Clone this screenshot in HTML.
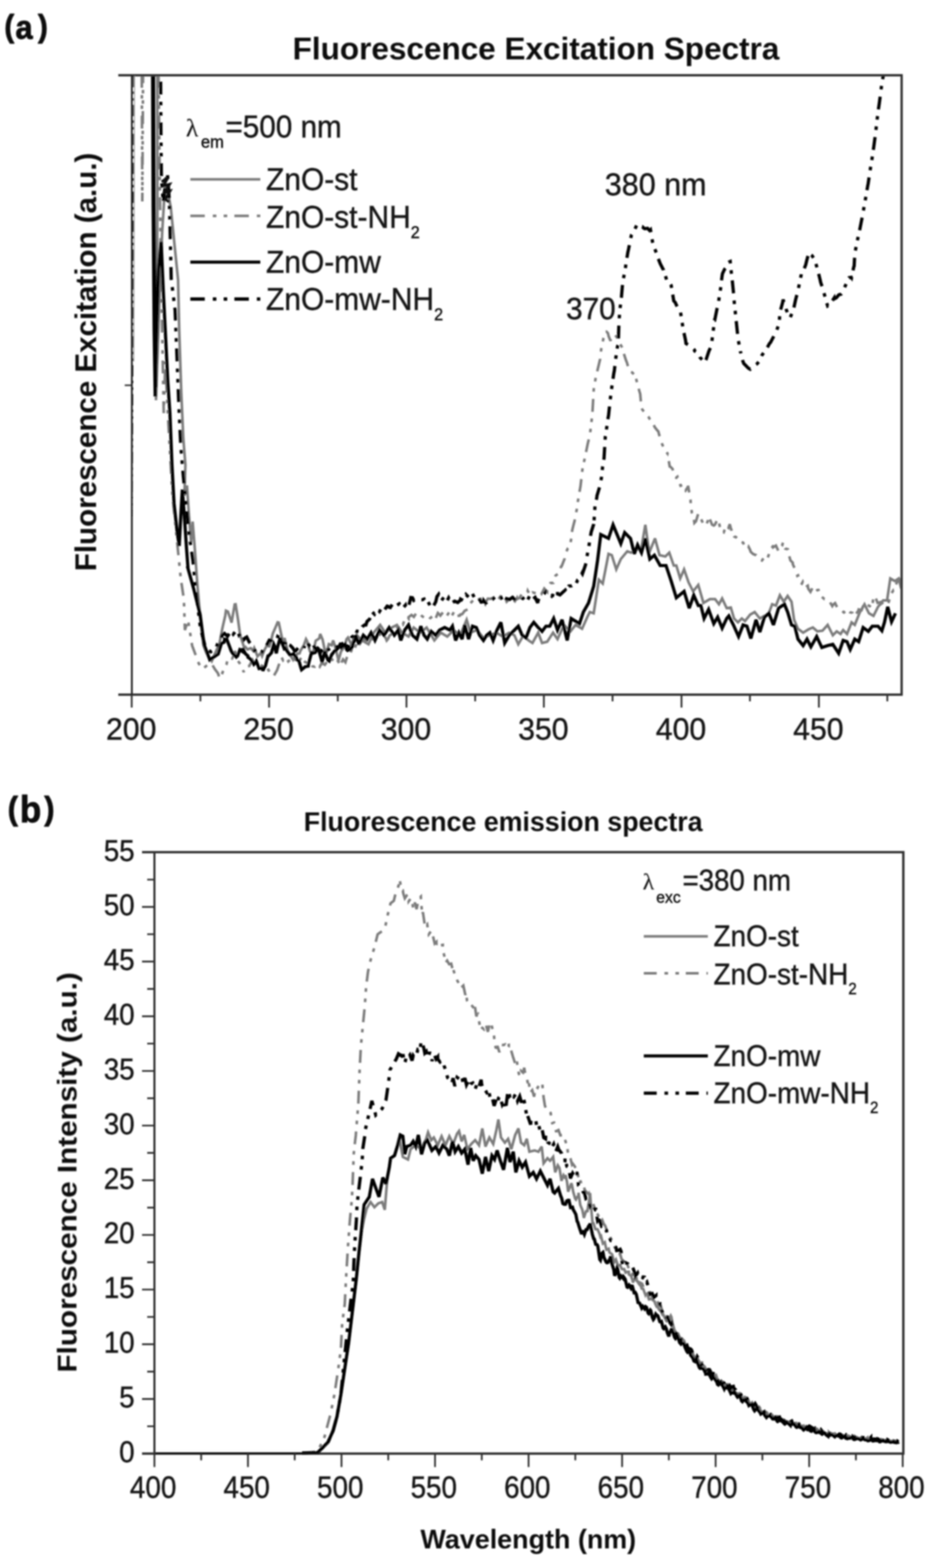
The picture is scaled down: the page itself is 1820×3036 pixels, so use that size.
<!DOCTYPE html>
<html lang="en"><head><meta charset="utf-8"><title>Fluorescence spectra</title>
<style>
html,body{margin:0;padding:0;background:#fff;}
body{width:1820px;height:3036px;overflow:hidden;}
svg{display:block;}
text{font-family:"Liberation Sans",Arial,sans-serif;fill:#141414;stroke:#141414;stroke-width:0.8px;}
.b{font-weight:bold;fill:#111;stroke:none;}
.pl{font-weight:bold;fill:#0c0c0c;stroke:#0c0c0c;stroke-width:1.5px;stroke-linejoin:round;}
.s{font-family:"Liberation Serif","DejaVu Serif",serif;stroke-width:0.3px;}
.ax{stroke:#2e2e2e;fill:none;stroke-linecap:butt;}
.c{fill:none;stroke-linejoin:miter;stroke-miterlimit:3;stroke-linecap:butt;}
</style></head><body>
<svg width="1820" height="3036" viewBox="0 0 1820 3036">
<defs><filter id="bl" x="-2%" y="-2%" width="104%" height="104%"><feGaussianBlur stdDeviation="1.45"/></filter></defs>
<rect width="1820" height="3036" fill="#fff"/>
<g filter="url(#bl)">
<g id="chartA">
<clipPath id="clipA"><rect x="255" y="145.7" width="1490.7" height="1199.3"/></clipPath>
<g clip-path="url(#clipA)">
<polyline class="c" points="304.5,145.0 304.8,400.0 303.5,650.0 302.0,775.0 308.0,600.0 314.0,450.0 320.0,352.0 325.0,372.0 330.6,401.0 338.0,475.0 344.8,542.0 347.0,640.0 351.0,760.0 355.0,850.0 359.0,900.0 357.0,960.0 362.0,940.0 366.0,1000.0 370.0,1050.0 373.0,1010.0 377.0,1060.0 382.0,1130.0 388.0,1200.0 394.0,1250.0 400.0,1265.0 410.0,1280.0 425.0,1245.5 430.7,1215.8 436.1,1192.2 437.5,1182.5 441.3,1184.3 447.5,1202.5 448.3,1205.5 454.4,1170.2 456.2,1170.0 460.9,1200.0 465.0,1230.0 467.0,1235.9 472.8,1253.8 475.0,1252.5 479.3,1257.6 485.5,1255.0 490.0,1260.0 492.2,1254.7 498.6,1270.7 505.4,1264.4 507.5,1270.0 511.2,1260.2 516.4,1250.3 521.6,1251.5 525.0,1240.0 528.1,1226.9 533.3,1214.9 537.5,1205.0 539.7,1205.5 546.0,1235.2 550.0,1240.0 550.9,1235.3 557.6,1262.7 562.5,1269.6 567.5,1277.5 569.3,1274.1 576.2,1265.6 580.0,1265.0 581.5,1260.4 588.0,1249.9 592.5,1237.5 594.6,1241.2 599.7,1260.0 602.5,1265.0 606.1,1264.3 611.2,1240.7 618.2,1236.1 620.0,1227.5 624.6,1238.3 630.0,1265.0 631.8,1264.6 636.7,1247.1 642.3,1249.3 645.0,1240.0 648.6,1251.0 654.8,1276.3 655.0,1280.0 660.1,1261.8 667.0,1252.2 671.0,1237.5 673.8,1234.4 679.3,1246.0 681.0,1250.0 684.5,1236.7 690.9,1236.4 691.0,1230.0 701.0,1240.0 713.5,1247.5 723.5,1225.0 736.0,1210.0 746.0,1225.0 758.5,1215.0 768.5,1210.0 778.5,1225.0 791.0,1232.5 801.0,1215.0 813.5,1225.0 826.0,1215.0 841.0,1240.0 853.5,1225.0 866.0,1232.5 878.5,1220.0 891.0,1230.0 903.5,1200.0 911.0,1225.0 923.5,1220.0 936.0,1235.0 948.5,1230.0 961.0,1225.0 973.5,1232.5 986.0,1225.0 996.0,1230.0 1003.5,1247.5 1013.5,1230.0 1023.5,1240.0 1031.0,1245.0 1042.0,1225.0 1049.5,1245.0 1059.5,1242.5 1070.8,1225.0 1079.5,1237.5 1092.0,1210.0 1104.5,1222.5 1114.5,1210.0 1127.0,1217.5 1137.0,1195.0 1142.0,1185.0 1149.5,1187.5 1159.5,1122.5 1167.0,1130.0 1178.2,1072.5 1184.5,1075.0 1193.2,1102.5 1202.0,1082.5 1214.5,1067.5 1222.0,1070.0 1232.0,1065.0 1242.0,1060.0 1249.5,1016.2 1257.0,1070.0 1268.2,1042.5 1277.0,1075.0 1288.2,1077.5 1295.8,1070.0 1304.5,1095.0 1309.5,1095.0 1317.0,1120.0 1324.5,1102.5 1333.2,1127.5 1342.0,1145.0 1352.0,1132.5 1362.0,1167.5 1374.5,1160.0 1384.5,1160.0 1392.0,1170.0 1398.2,1158.8 1407.0,1177.5 1415.0,1176.2 1421.2,1197.5 1428.8,1205.0 1436.2,1197.5 1442.5,1202.5 1452.5,1190.0 1461.2,1185.0 1471.2,1197.5 1480.0,1192.5 1487.5,1190.0 1495.0,1170.0 1502.5,1172.5 1510.0,1152.5 1517.5,1165.0 1525.0,1153.8 1532.5,1165.0 1537.5,1200.0 1545.0,1217.5 1555.0,1225.0 1565.0,1218.8 1573.8,1215.0 1582.5,1222.5 1592.5,1221.2 1602.5,1210.0 1612.5,1230.0 1620.0,1222.5 1627.5,1227.5 1632.5,1220.0 1640.0,1227.5 1648.8,1205.0 1655.0,1210.0 1665.0,1185.0 1673.8,1170.0 1682.5,1187.5 1691.2,1192.5 1700.0,1175.0 1710.0,1162.5 1717.5,1162.5 1723.8,1120.0 1732.5,1125.0 1740.0,1120.0 1745.0,1140.0" stroke="#7c7c7c" stroke-width="5.0"/>
<polyline class="c" points="274.5,145.0 275.5,390.0 277.0,145.0" stroke="#7c7c7c" stroke-width="5.0" stroke-dasharray="25 14 7 13 7 13"/>
<polyline class="c" points="307.0,145.0 310.0,400.0 314.0,640.0 317.0,800.0 320.0,700.0 326.0,820.0 334.0,960.0 344.0,1060.0 350.0,1120.0 356.0,1160.0 358.0,1220.0 364.0,1200.0 372.0,1250.0 385.0,1285.0 392.5,1295.0 405.0,1285.1 410.4,1286.2 416.0,1295.5 422.0,1303.6 425.0,1312.5 426.8,1313.8 432.5,1297.5 438.6,1286.1 440.0,1280.0 444.7,1272.3 449.4,1274.9 455.0,1265.0 455.0,1260.1 460.6,1279.6 465.9,1286.6 472.1,1301.6 472.5,1297.5 477.5,1290.5 482.7,1289.5 488.9,1278.0 490.0,1280.0 494.5,1286.3 499.4,1282.7 504.3,1287.5 509.6,1290.3 510.0,1292.5 513.9,1300.0 519.5,1296.7 525.3,1306.2 530.0,1307.5 530.4,1308.1 536.4,1297.8 542.7,1279.2 545.0,1272.5 548.1,1278.5 553.8,1272.8 558.2,1280.6 562.6,1276.1 565.0,1280.0 568.9,1281.2 573.8,1273.8 578.5,1281.7 584.6,1270.8 585.0,1275.0 590.4,1281.6 594.9,1283.9 599.8,1284.2 604.6,1285.5 605.0,1290.0 609.4,1290.9 613.7,1285.2 619.0,1291.0 623.9,1282.2 625.0,1285.0 629.0,1287.2 633.6,1280.3 638.1,1283.9 642.4,1276.1 645.0,1280.0 648.5,1285.8 654.3,1279.8 659.7,1289.2 660.0,1285.0 664.2,1276.7 668.8,1282.3 671.0,1275.0 673.3,1266.1 678.2,1266.3 682.6,1252.5 686.0,1250.0 687.4,1254.1 692.1,1240.8 696.7,1246.6 701.0,1240.0 702.3,1236.2 707.5,1240.6 712.8,1239.3 716.0,1245.0 717.8,1241.6 723.2,1234.5 729.1,1227.6 733.5,1225.0 734.0,1227.7 738.4,1231.1 743.6,1227.6 748.7,1240.2 751.0,1237.5 754.6,1230.2 759.0,1227.5 765.1,1218.4 769.4,1215.5 771.0,1215.0 774.8,1205.7 780.0,1209.4 784.9,1196.6 791.0,1198.9 791.0,1195.0 796.7,1190.6 801.3,1194.5 806.6,1185.9 811.0,1187.5 812.1,1186.9 816.5,1192.5 820.9,1195.7 826.4,1199.1 831.0,1200.0 832.2,1197.5 837.4,1193.1 842.5,1199.7 847.8,1186.9 851.0,1190.0 852.6,1192.0 858.7,1184.2 865.0,1192.8 870.3,1184.3 871.0,1187.5 874.6,1192.8 879.6,1183.5 885.6,1192.5 890.5,1192.0 891.0,1190.0 895.0,1189.0 899.6,1182.7 905.4,1179.9 906.0,1175.0 910.9,1167.9 915.8,1162.6 921.0,1160.0 921.3,1162.3 927.2,1160.2 933.5,1158.9 939.5,1169.5 941.0,1165.0 944.6,1159.0 950.6,1159.4 956.8,1156.6 961.0,1157.5 962.9,1163.1 968.7,1155.1 974.2,1160.8 979.5,1161.0 981.0,1165.0 985.6,1160.7 991.1,1159.3 996.9,1164.2 1001.0,1157.5 1001.6,1159.7 1006.0,1157.6 1010.9,1149.1 1016.3,1147.2 1021.0,1147.5 1021.8,1144.0 1026.5,1153.2 1031.1,1147.0 1037.3,1148.7 1041.7,1149.0 1042.0,1152.5 1047.9,1150.8 1053.8,1139.5 1059.3,1145.6 1059.5,1140.0 1065.6,1129.0 1071.3,1128.6 1072.0,1122.5 1075.6,1114.5 1081.8,1110.2 1086.9,1095.4 1087.0,1097.5 1093.1,1082.0 1094.5,1072.5 1099.1,1062.4 1102.0,1060.0 1103.6,1056.4 1107.0,1037.5 1107.9,1026.6 1110.8,1015.0 1112.2,1010.0 1117.0,985.0 1118.1,974.9 1119.5,967.5 1124.0,940.9 1128.7,900.0 1129.5,900.0 1133.2,882.5 1138.2,858.1 1142.0,842.5 1144.2,825.8 1147.0,800.0 1149.5,755.0 1150.0,750.9 1154.5,725.0 1156.1,720.0 1162.0,695.0 1162.3,690.7 1164.5,672.5 1168.2,656.1 1168.2,655.0 1172.0,642.5 1174.2,642.1 1177.0,645.0 1178.5,651.3 1182.0,660.0 1182.7,656.8 1188.8,649.9 1189.5,647.5 1194.3,652.8 1197.0,657.5 1199.3,662.8 1203.8,671.7 1204.5,672.5 1208.7,687.4 1212.0,697.5 1213.7,701.5 1219.0,719.6 1219.5,720.0 1224.2,721.3 1228.8,726.6 1229.5,725.0 1233.3,740.1 1237.9,757.4 1239.5,762.5 1242.0,790.0 1242.4,791.2 1246.9,797.3 1252.0,802.3 1256.5,808.4 1257.0,810.0 1262.5,816.1 1267.9,827.3 1273.1,833.9 1274.5,835.0 1278.7,850.6 1282.0,860.0 1283.4,863.1 1287.7,871.7 1292.0,877.5 1292.1,876.4 1297.0,905.0 1297.1,902.8 1302.1,907.8 1306.8,923.9 1309.5,925.0 1311.7,923.1 1317.7,940.5 1322.0,939.0 1324.5,947.5 1327.2,950.1 1332.0,942.5 1332.2,940.5 1337.0,967.5 1337.1,970.7 1339.5,992.5 1342.9,1001.0 1344.5,1012.5 1347.6,1009.3 1351.9,994.5 1352.0,997.5 1356.5,1003.0 1362.8,1016.8 1364.5,1017.5 1367.8,1014.9 1372.0,1005.0 1372.3,1000.1 1378.6,1015.8 1382.0,1017.5 1384.2,1015.9 1389.5,1005.0 1390.4,1005.4 1395.4,1026.7 1397.0,1030.0 1401.3,1030.8 1405.7,1017.7 1410.4,1021.9 1413.0,1015.0 1416.2,1027.5 1416.3,1024.6 1421.7,1039.0 1425.0,1040.0 1427.6,1043.7 1432.6,1049.6 1435.0,1050.0 1438.7,1050.6 1443.1,1060.5 1448.7,1057.5 1452.5,1065.0 1453.3,1068.2 1458.0,1072.6 1464.1,1075.1 1467.5,1081.2 1469.3,1083.5 1475.2,1085.3 1480.1,1078.7 1483.8,1082.5 1485.9,1081.2 1490.0,1070.0 1492.0,1063.8 1497.5,1056.2 1497.6,1059.3 1502.3,1056.4 1507.5,1067.5 1508.0,1064.1 1514.2,1056.7 1516.2,1050.0 1520.2,1062.2 1525.4,1063.5 1526.2,1070.0 1530.4,1084.9 1534.9,1089.5 1535.0,1092.5 1540.8,1104.9 1543.8,1115.0 1545.3,1114.1 1550.0,1128.2 1552.5,1130.0 1554.4,1126.5 1558.9,1137.2 1564.0,1134.0 1565.0,1140.0 1569.2,1145.9 1573.9,1136.8 1579.0,1145.0 1582.5,1142.5 1584.8,1142.4 1589.3,1154.2 1593.8,1157.9 1596.2,1160.0 1599.2,1160.2 1605.3,1163.2 1611.5,1173.6 1613.8,1170.0 1616.9,1167.7 1621.4,1177.1 1625.0,1177.5 1627.5,1180.4 1633.8,1185.9 1638.8,1182.5 1640.0,1179.6 1645.3,1185.3 1650.4,1186.7 1651.2,1192.5 1655.9,1190.4 1661.8,1182.7 1662.5,1180.0 1668.1,1181.5 1673.4,1168.3 1675.0,1172.5 1678.7,1171.6 1683.6,1173.2 1687.5,1177.5 1689.0,1173.7 1691.2,1155.0 1694.4,1155.2 1699.2,1167.3 1704.5,1165.9 1705.0,1170.0 1710.6,1166.1 1715.4,1162.3 1720.0,1165.0 1720.2,1167.2 1725.0,1150.8 1730.0,1142.5 1731.1,1143.0 1736.0,1128.6 1740.0,1122.5 1742.0,1125.8 1745.0,1120.0" stroke="#7c7c7c" stroke-width="5.0" stroke-dasharray="25 14 7 13 7 13"/>
<polyline class="c" points="297.5,145.0 298.5,400.0 300.0,600.0 301.5,750.0" stroke="#050505" stroke-width="6.2"/>
<polyline class="c" points="295.5,145.0 296.5,400.0 298.5,640.0 300.5,768.0 303.5,640.0 307.0,520.0 312.0,468.0 316.0,560.0 320.0,640.0 325.0,740.0 329.0,800.0 333.0,900.0 337.0,975.0 343.0,1030.0 347.0,1057.0 350.0,1000.0 353.0,948.0 357.0,1000.0 361.0,1060.0 364.0,1100.0 363.8,1100.0 375.0,1140.0 387.5,1190.0 395.0,1247.5 406.2,1277.5 422.5,1266.2 428.8,1245.7 433.7,1243.5 435.0,1237.5 439.2,1238.3 444.5,1252.0 447.5,1260.0 451.1,1265.7 457.5,1272.2 460.0,1270.0 464.4,1258.0 469.4,1261.4 470.0,1255.0 475.2,1265.9 480.0,1270.0 480.1,1272.7 485.4,1276.4 491.5,1286.3 495.0,1282.5 496.3,1280.2 501.6,1294.5 508.0,1293.3 508.8,1298.8 514.1,1288.7 519.4,1267.9 520.0,1270.0 525.6,1263.9 530.0,1247.5 532.3,1252.3 535.0,1265.0 537.2,1254.0 542.5,1235.0 543.9,1239.1 550.4,1256.1 552.5,1255.0 556.0,1260.7 561.2,1267.8 565.0,1267.5 568.3,1265.9 573.9,1273.2 575.0,1277.5 578.9,1279.6 582.5,1292.5 583.9,1296.7 590.8,1291.1 597.0,1289.7 597.5,1285.0 603.7,1261.6 605.0,1265.0 610.3,1263.4 615.0,1255.0 616.4,1255.9 622.5,1277.5 623.5,1282.2 629.2,1260.9 630.0,1265.0 635.3,1278.8 637.5,1280.0 642.1,1267.7 648.4,1260.1 650.0,1260.0 655.3,1254.0 660.0,1245.0 661.5,1253.4 668.0,1247.8 671.0,1257.5 672.9,1259.4 678.2,1257.7 682.2,1252.5 683.7,1246.1 688.5,1235.0 688.7,1229.4 694.1,1245.5 696.0,1245.0 703.5,1230.0 711.0,1237.5 718.5,1225.0 726.0,1240.0 734.8,1220.0 743.5,1230.0 753.5,1215.0 763.5,1230.0 771.0,1220.0 776.0,1240.0 783.5,1220.0 791.0,1210.0 798.5,1230.0 807.2,1237.5 814.8,1212.5 821.0,1230.0 827.2,1237.5 834.8,1222.5 843.5,1230.0 851.0,1220.0 861.0,1215.0 871.0,1220.0 876.0,1212.5 882.2,1240.0 888.5,1225.0 894.8,1237.5 899.8,1210.0 907.2,1237.5 914.8,1212.5 922.2,1215.0 928.5,1230.0 936.0,1240.0 942.2,1230.0 948.5,1225.0 954.8,1240.0 962.2,1220.0 969.8,1205.0 977.2,1245.0 986.0,1230.0 996.0,1220.0 1003.5,1212.5 1011.0,1230.0 1018.5,1235.0 1026.0,1215.0 1033.5,1205.0 1042.0,1215.0 1049.5,1222.5 1057.0,1212.5 1064.5,1212.5 1072.0,1197.5 1079.5,1220.0 1088.2,1200.0 1098.2,1240.0 1105.8,1197.5 1122.0,1207.5 1129.5,1185.0 1139.5,1167.5 1149.5,1135.0 1157.0,1085.0 1163.2,1035.0 1178.2,1042.5 1187.0,1016.2 1202.0,1052.5 1209.5,1031.2 1220.8,1042.5 1228.2,1072.5 1234.5,1055.0 1242.0,1070.0 1249.5,1042.5 1258.2,1082.5 1267.0,1075.0 1278.2,1095.0 1289.5,1095.0 1299.5,1125.0 1309.5,1157.5 1324.5,1145.0 1334.5,1177.5 1343.2,1152.5 1352.0,1172.5 1357.0,1172.5 1363.2,1197.5 1372.0,1180.0 1382.0,1207.5 1389.5,1195.0 1398.2,1216.2 1407.0,1197.5 1411.2,1192.5 1420.0,1210.0 1430.0,1232.5 1438.8,1210.0 1446.2,1212.5 1453.8,1236.2 1463.8,1200.0 1471.2,1223.8 1480.0,1195.0 1488.8,1187.5 1497.5,1210.0 1507.5,1177.5 1518.8,1170.0 1525.0,1185.0 1532.5,1210.0 1538.8,1212.5 1545.0,1237.5 1555.0,1250.0 1562.5,1237.5 1570.0,1252.5 1581.2,1232.5 1591.2,1253.8 1602.5,1250.0 1612.5,1247.5 1623.8,1265.0 1632.5,1240.0 1640.0,1242.5 1646.2,1257.5 1655.0,1237.5 1662.5,1242.5 1671.2,1215.0 1681.2,1222.5 1688.8,1212.5 1700.0,1212.5 1707.5,1221.2 1712.5,1205.0 1718.8,1175.0 1726.2,1203.8 1733.8,1187.5" stroke="#050505" stroke-width="6.2"/>
<polyline class="c" points="311.0,158.0 311.5,250.0 312.5,345.0 316.0,392.0 321.0,350.0 324.0,335.0 326.0,360.0 328.0,392.0 329.5,452.0 331.5,540.0 339.0,600.0 343.0,700.0 346.5,790.0 350.0,863.0 355.0,923.0 361.0,980.0 367.0,1040.0 373.5,1085.0 380.0,1150.0 388.0,1215.0 398.0,1255.0 408.0,1262.0 417.5,1257.0 422.9,1242.2 428.3,1236.2 430.0,1230.0 434.4,1226.4 440.5,1231.9 445.0,1225.0 446.6,1220.6 451.6,1227.9 457.9,1220.0 460.0,1222.5 463.0,1229.9 467.9,1224.7 472.4,1238.0 475.0,1235.0 477.7,1233.4 482.3,1242.7 487.1,1248.9 490.0,1255.0 492.6,1259.8 498.5,1256.7 504.3,1264.3 507.5,1262.5 508.8,1258.2 513.1,1257.9 517.9,1246.3 522.5,1237.5 523.3,1242.6 529.3,1229.9 535.3,1230.9 537.5,1232.5 541.5,1233.6 547.0,1244.7 552.5,1245.0 552.6,1241.2 557.4,1247.8 562.3,1249.8 567.0,1254.8 570.0,1260.0 572.4,1260.5 577.9,1253.8 583.4,1249.6 587.5,1250.0 588.4,1254.2 593.6,1242.1 598.3,1249.5 600.0,1245.0 604.3,1243.9 609.8,1255.1 615.6,1258.9 620.0,1260.0 621.6,1261.5 626.4,1254.1 630.9,1260.5 635.7,1257.5 640.0,1255.0 641.9,1257.4 647.8,1252.7 652.9,1252.6 657.5,1245.0 658.8,1241.4 663.8,1248.3 669.8,1249.8 671.0,1255.0 674.3,1252.6 680.1,1234.5 686.0,1230.0 686.4,1233.4 691.5,1222.0 696.8,1223.1 701.3,1213.6 706.1,1209.9 708.5,1210.0 710.8,1203.1 715.7,1198.8 718.5,1190.0 720.1,1184.2 725.0,1189.2 729.4,1180.1 733.5,1182.5 734.8,1184.0 739.9,1175.6 744.6,1180.7 750.8,1171.8 751.0,1175.0 755.7,1176.4 761.1,1167.7 766.0,1170.0 767.2,1172.8 773.1,1169.0 779.4,1178.3 784.9,1171.8 786.0,1177.5 791.0,1174.9 795.4,1157.1 798.5,1157.5 801.2,1162.5 806.1,1159.6 811.0,1161.3 816.9,1161.4 821.0,1160.0 822.7,1165.7 827.7,1163.0 832.7,1172.8 837.5,1171.2 838.5,1175.0 843.7,1165.2 846.0,1155.0 849.3,1150.7 854.1,1163.5 859.4,1156.6 863.8,1164.7 866.0,1162.5 868.6,1157.6 873.9,1167.9 880.2,1164.0 886.3,1166.5 891.0,1162.5 891.7,1159.9 897.5,1163.2 902.3,1151.3 908.0,1156.8 911.0,1150.0 914.4,1149.0 918.9,1158.1 925.2,1155.4 931.5,1165.8 936.0,1165.0 936.5,1162.5 942.5,1170.1 946.0,1167.5 948.8,1163.7 953.4,1160.7 958.6,1155.6 961.0,1157.5 964.1,1160.8 970.0,1156.9 974.8,1166.6 978.5,1165.0 980.7,1159.1 986.4,1160.8 992.4,1156.6 996.0,1160.0 998.2,1157.8 1004.3,1161.0 1009.8,1162.6 1011.0,1160.0 1015.2,1155.9 1020.4,1163.7 1025.5,1153.9 1026.0,1157.5 1030.8,1161.1 1036.0,1156.6 1041.1,1167.5 1042.0,1162.5 1045.7,1154.9 1050.7,1153.3 1057.0,1145.4 1059.5,1147.5 1061.9,1147.5 1068.2,1154.2 1069.5,1152.5 1074.2,1153.8 1079.4,1144.7 1079.5,1150.0 1084.1,1151.9 1090.2,1146.3 1094.5,1142.5 1096.5,1146.4 1101.4,1134.8 1107.0,1134.3 1112.9,1130.6 1114.5,1132.5 1118.4,1122.9 1122.9,1119.2 1127.0,1110.0 1127.7,1111.1 1133.4,1094.5 1134.5,1090.0 1138.2,1067.5 1139.0,1066.4 1142.0,1045.0 1144.7,1030.0 1149.5,1015.0 1149.5,1019.0 1152.0,980.0 1155.6,962.9 1155.8,960.0 1161.5,941.1 1164.5,925.0 1166.8,903.4 1169.5,887.5 1172.0,845.0 1172.8,840.9 1177.7,807.1 1178.2,805.0 1180.8,780.0 1183.1,760.5 1184.5,750.0 1188.4,723.1 1189.5,717.5 1192.0,695.0 1194.7,675.9 1195.8,670.0 1197.0,667.5 1198.2,630.0 1199.5,607.5 1200.9,594.2 1203.2,575.0 1205.8,545.0 1205.9,545.4 1210.8,520.0 1211.8,511.6 1215.8,487.5 1216.7,483.9 1222.0,457.5 1222.8,454.6 1228.9,444.5 1233.2,435.0 1234.6,434.8 1238.9,438.5 1243.8,439.0 1245.8,441.2 1248.4,442.8 1253.7,442.1 1258.0,446.5 1259.5,445.0 1262.4,461.3 1263.2,467.5 1266.9,479.8 1272.9,494.7 1273.2,497.5 1278.4,510.6 1284.5,522.5 1284.5,521.1 1290.8,542.3 1292.0,545.0 1296.2,547.3 1299.5,552.5 1302.2,568.6 1304.5,582.5 1307.4,585.7 1312.9,597.7 1317.0,602.5 1317.5,603.8 1322.0,632.5 1322.7,637.3 1327.2,658.0 1328.2,665.0 1332.4,667.5 1338.7,672.2 1344.5,677.5 1345.0,679.6 1350.8,683.5 1355.2,692.0 1361.5,698.7 1364.5,702.0 1366.9,696.9 1372.5,680.0 1377.0,670.0 1377.6,667.1 1383.5,620.0 1383.8,620.0 1388.4,597.2 1391.2,585.0 1392.9,572.2 1395.0,560.0 1398.1,534.1 1398.8,530.0 1402.8,521.5 1407.5,516.5 1407.5,515.0 1412.1,506.9 1413.8,506.2 1416.2,530.0 1417.9,544.1 1420.0,565.0 1422.5,595.0 1423.5,602.8 1425.0,617.5 1428.3,649.1 1428.8,655.0 1433.8,682.5 1433.9,681.2 1438.2,698.8 1440.0,703.8 1444.5,708.2 1449.2,713.1 1452.5,715.0 1454.6,712.5 1459.6,708.4 1465.6,704.6 1467.5,702.5 1470.8,698.3 1475.4,687.5 1480.0,681.2 1481.5,679.7 1486.9,670.6 1490.0,665.0 1491.7,663.4 1497.5,652.4 1502.5,642.5 1503.6,640.4 1508.8,625.0 1509.4,614.4 1510.0,605.0 1515.4,585.4 1516.2,580.0 1520.4,592.4 1522.5,600.0 1525.1,606.6 1529.4,614.9 1530.0,615.0 1535.6,600.9 1536.2,600.0 1540.3,580.8 1543.8,567.5 1545.3,561.1 1551.2,532.5 1551.3,530.7 1555.8,523.7 1560.0,512.5 1562.0,504.2 1566.2,488.8 1567.4,491.3 1572.0,494.7 1577.5,502.5 1578.0,503.7 1583.6,525.0 1583.8,525.0 1588.0,542.1 1588.8,546.2 1593.3,559.7 1597.5,575.0 1599.0,581.3 1602.5,592.5 1603.8,591.8 1608.8,586.7 1614.8,577.4 1615.0,578.8 1619.4,576.4 1624.2,570.8 1628.7,569.5 1632.5,565.0 1633.9,559.8 1639.1,547.6 1642.5,540.0 1643.9,537.6 1648.4,536.9 1648.8,537.5 1652.9,517.4 1653.8,515.0 1655.0,491.2 1658.7,471.9 1661.2,460.0 1664.2,446.8 1667.5,430.0 1670.1,417.1 1673.0,400.0 1674.6,391.7 1680.0,360.0 1680.9,355.5 1686.6,317.3 1688.0,310.0 1692.0,282.6 1695.0,260.0 1698.0,233.3 1701.0,210.0 1702.4,200.5 1707.0,165.0 1708.0,158.0 1710.5,145.0" stroke="#050505" stroke-width="6.3" stroke-dasharray="25 14 7 13 7 13"/>
</g>
<path class="ax" stroke-width="4.4" d="M229,145.7 H1747.9 M229,1345 H1747.9 M1745.7,145.7 V1345"/>
<path d="M255.3,145.7 V1345" fill="none" stroke="#1c1c1c" stroke-width="3.4"/>
<polyline class="c" points="313,352 325,344 316,360 328,357 318,373 329,370 320,386 328,391" stroke="#080808" stroke-width="5.5"/>
<path d="M258.5,147 L257.5,600 L256,1000" fill="none" stroke="#111" stroke-width="2" stroke-dasharray="22 8 5 8 5 8"/>
<path d="M260.5,147 L259,700" fill="none" stroke="#8a8a8a" stroke-width="1.6"/>
<path class="ax" stroke-width="3" d="M241.5,746 H255"/>
<path class="ax" stroke-width="3.4" d="M255,1345 v25 M521,1345 v25 M787,1345 v25 M1053,1345 v25 M1319.5,1345 v25 M1585.5,1345 v25 M388,1345 v13 M654,1345 v13 M920,1345 v13 M1186,1345 v13 M1452,1345 v13 M1718,1345 v13 "/>
<text transform="translate(254.0,1431.5) scale(0.975,1)" font-size="60" text-anchor="middle">200</text>
<text transform="translate(520.0,1431.5) scale(0.975,1)" font-size="60" text-anchor="middle">250</text>
<text transform="translate(786.0,1431.5) scale(0.975,1)" font-size="60" text-anchor="middle">300</text>
<text transform="translate(1052.0,1431.5) scale(0.975,1)" font-size="60" text-anchor="middle">350</text>
<text transform="translate(1318.5,1431.5) scale(0.975,1)" font-size="60" text-anchor="middle">400</text>
<text transform="translate(1584.5,1431.5) scale(0.975,1)" font-size="60" text-anchor="middle">450</text>
<text transform="translate(566.5,114.5)" font-size="61" class="b">Fluorescence Excitation Spectra</text>
<text transform="translate(186.0,1106.0) rotate(-90)" font-size="57.2" class="b">Fluorescence Excitation (a.u.)</text>
<text transform="translate(8.6,71.1) scale(0.930,1)" font-size="61.5" class="pl">(<tspan font-size="64" dx="2.5" dy="3.5">a</tspan><tspan dx="11.3" dy="-3.5">)</tspan></text>
<text transform="translate(360.0,264.0)" font-size="49" class="s">λ</text>
<text transform="translate(389.0,286.0) scale(0.970,1)" font-size="33">em</text>
<text transform="translate(436.5,265.5) scale(0.950,1)" font-size="60.5">=500 nm</text>
<line x1="368.5" y1="347.2" x2="504" y2="347.2" stroke="#7c7c7c" stroke-width="5.0"/>
<text transform="translate(515.0,367.7) scale(0.951,1)" font-size="61">ZnO-st</text>
<line x1="368.5" y1="418" x2="504" y2="418" stroke="#7c7c7c" stroke-width="5.0" stroke-dasharray="28 15.5 7 14 7 13.8"/>
<text transform="translate(515.0,440.7) scale(0.951,1)" font-size="61">ZnO-st-NH<tspan dy="20" font-size="33">2</tspan></text>
<line x1="368.5" y1="507.5" x2="504" y2="507.5" stroke="#050505" stroke-width="6.2"/>
<text transform="translate(515.0,528.2) scale(0.951,1)" font-size="61">ZnO-mw</text>
<line x1="368.5" y1="579" x2="504" y2="579" stroke="#050505" stroke-width="6.3" stroke-dasharray="28 15.5 7 14 7 13.8"/>
<text transform="translate(515.0,600.2) scale(0.951,1)" font-size="61">ZnO-mw-NH<tspan dy="20" font-size="33">2</tspan></text>
<text transform="translate(1171.0,378.0) scale(0.960,1)" font-size="61.5">380 nm</text>
<text transform="translate(1096.0,618.0) scale(0.960,1)" font-size="60">370</text>
</g>
<g id="chartB">
<clipPath id="clipB"><rect x="299" y="1650" width="1450" height="1167.5"/></clipPath>
<g clip-path="url(#clipB)">
<polyline class="c" points="585.0,2813.5 600.0,2813.0 615.0,2813.8 635.0,2793.8 645.0,2771.2 652.5,2743.8 660.0,2701.2 667.5,2651.2 675.0,2601.2 682.5,2538.8 690.0,2476.2 695.0,2426.2 700.0,2385.0 705.0,2360.0 710.0,2340.0 717.5,2327.5 725.0,2337.5 732.5,2330.0 740.0,2327.5 745.0,2342.5 750.0,2280.0 756.2,2245.0 765.0,2235.0 772.5,2202.5 780.0,2240.0 790.0,2245.0 795.0,2225.0 805.0,2217.5 815.0,2225.0 825.0,2205.0 828.8,2192.5 835.0,2207.5 840.0,2202.5 847.5,2217.5 855.0,2200.0 862.5,2217.5 870.0,2200.0 877.5,2215.0 885.0,2195.0 888.8,2190.0 893.8,2210.0 898.8,2197.5 905.0,2225.0 912.5,2215.0 920.0,2207.5 927.5,2217.5 933.8,2185.0 940.0,2220.0 947.5,2202.5 955.0,2215.0 961.2,2187.5 965.0,2167.5 970.0,2202.5 977.5,2212.5 983.8,2205.0 990.0,2225.0 997.5,2197.5 1003.8,2185.0 1008.8,2212.5 1015.0,2217.5 1020.0,2205.0 1025.0,2230.0 1035.0,2227.5 1042.5,2230.0 1048.8,2220.0 1052.5,2252.5 1060.0,2242.5 1065.0,2247.5 1071.0,2240.0 1075.0,2270.0 1080.0,2256.4 1083.2,2261.4 1087.2,2286.5 1087.5,2285.0 1091.1,2275.6 1094.8,2282.1 1095.0,2275.0 1098.0,2289.3 1100.0,2307.5 1102.2,2301.5 1106.3,2291.1 1107.5,2295.0 1110.0,2308.1 1113.7,2321.1 1115.0,2322.5 1117.1,2318.1 1120.0,2315.0 1120.0,2309.4 1123.5,2333.2 1127.4,2342.2 1130.0,2355.0 1130.4,2358.3 1134.6,2345.3 1137.5,2345.0 1137.9,2341.0 1141.2,2321.4 1142.5,2310.0 1144.2,2335.3 1147.5,2370.0 1148.6,2366.7 1152.7,2379.8 1155.0,2380.0 1156.9,2380.1 1160.8,2388.9 1162.5,2395.0 1163.8,2393.6 1167.3,2407.8 1171.0,2405.2 1172.5,2412.5 1174.1,2419.6 1178.5,2417.7 1180.0,2425.0 1182.0,2426.2 1185.2,2428.7 1187.5,2437.5 1189.3,2443.6 1192.5,2438.8 1196.8,2450.9 1197.5,2450.0 1200.4,2449.5 1204.2,2457.2 1207.5,2457.5 1207.7,2455.6 1211.4,2464.1 1214.6,2462.6 1217.5,2462.5 1217.6,2467.4 1221.8,2470.4 1225.0,2480.0 1225.2,2483.4 1229.3,2474.8 1232.5,2475.0 1232.5,2477.7 1236.9,2485.9 1241.2,2490.7 1242.5,2495.0 1245.3,2495.5 1249.4,2506.7 1250.0,2505.0 1253.2,2506.5 1257.2,2517.8 1257.5,2515.0 1260.4,2514.5 1264.0,2517.2 1267.5,2520.0 1268.2,2523.2 1271.5,2530.2 1275.0,2532.5 1275.8,2535.5 1280.1,2539.7 1282.5,2545.0 1283.7,2544.1 1287.2,2551.8 1290.0,2557.5 1290.8,2558.2 1294.3,2556.3 1298.7,2547.4 1300.0,2550.0 1302.3,2562.9 1305.3,2573.0 1306.5,2582.0 1308.4,2581.3 1311.4,2581.8 1312.4,2581.9 1316.8,2595.3 1317.0,2594.1 1320.5,2591.8 1324.0,2595.5 1324.2,2594.6 1328.0,2607.3 1330.3,2612.2 1332.0,2615.5 1335.3,2614.7 1336.7,2613.7 1339.2,2619.9 1342.6,2625.7 1343.0,2623.7 1346.9,2630.1 1349.8,2629.9 1350.1,2628.9 1353.3,2637.9 1356.7,2642.5 1356.8,2640.5 1361.1,2643.6 1363.3,2645.0 1364.6,2646.1 1368.4,2657.7 1369.0,2657.8 1371.8,2656.7 1373.6,2655.2 1375.0,2659.2 1378.0,2663.5 1380.8,2667.1 1382.2,2666.9 1385.6,2662.8 1386.3,2662.4 1389.8,2672.6 1392.9,2676.5 1393.8,2677.2 1397.7,2675.0 1398.7,2675.9 1402.0,2680.7 1404.1,2685.1 1406.4,2684.6 1409.1,2680.6 1410.0,2681.1 1413.8,2689.5 1414.4,2688.7 1418.8,2687.0 1420.7,2688.8 1422.6,2694.2 1426.5,2699.1 1426.9,2698.0 1430.6,2700.2 1432.4,2697.8 1434.1,2699.5 1437.0,2708.0 1437.4,2709.1 1441.7,2704.7 1444.4,2705.8 1444.9,2707.4 1447.9,2711.0 1450.9,2718.1 1452.1,2719.3 1456.2,2715.5 1456.5,2716.2 1459.9,2722.2 1463.0,2725.3 1464.0,2724.2 1467.1,2725.7 1468.2,2724.1 1470.4,2726.2 1473.8,2732.6 1474.2,2733.8 1477.4,2733.5 1480.2,2732.2 1480.6,2733.8 1483.7,2736.6 1487.1,2740.6 1487.2,2740.1 1491.4,2739.4 1493.3,2738.2 1495.8,2740.5 1499.1,2744.9 1499.9,2744.1 1503.6,2745.3 1505.9,2743.9 1506.9,2745.4 1511.3,2749.9 1512.0,2749.8 1515.0,2748.4 1518.6,2749.3 1519.1,2751.0 1522.1,2751.8 1523.9,2754.3 1525.3,2754.9 1529.5,2752.2 1530.3,2752.8 1533.7,2755.0 1536.2,2757.6 1537.9,2755.5 1541.6,2755.2 1541.8,2756.6 1545.4,2757.4 1548.9,2761.9 1549.2,2762.7 1553.4,2760.4 1556.3,2760.3 1556.8,2761.7 1560.6,2764.3 1563.6,2765.9 1564.0,2766.3 1568.0,2761.9 1568.7,2762.8 1571.0,2765.2 1575.0,2766.8 1575.9,2768.7 1579.4,2768.1 1581.2,2766.5 1582.4,2766.6 1586.2,2772.6 1586.7,2772.1 1590.1,2769.9 1591.2,2770.7 1594.3,2774.1 1597.6,2776.3 1598.2,2775.1 1601.5,2775.5 1605.1,2774.1 1605.1,2773.5 1609.4,2778.6 1609.7,2778.2 1613.7,2775.9 1616.5,2775.3 1616.9,2776.3 1620.0,2778.3 1623.0,2780.2 1623.1,2780.7 1626.1,2779.6 1629.0,2778.1 1629.7,2779.6 1632.9,2779.7 1635.4,2782.2 1637.1,2781.4 1641.1,2779.8 1642.8,2779.7 1644.2,2780.6 1647.7,2783.8 1648.0,2782.7 1651.4,2783.3 1654.9,2782.0 1655.1,2781.3 1658.4,2784.5 1661.6,2784.6 1662.2,2785.6 1664.8,2785.4 1668.3,2782.4 1668.8,2782.9 1672.3,2786.2 1673.9,2786.4 1676.1,2785.8 1679.2,2783.6 1679.2,2784.1 1683.2,2785.2 1685.8,2787.3 1687.4,2787.5 1691.5,2786.6 1692.9,2786.0 1695.7,2787.1 1698.2,2788.9 1698.6,2787.8 1702.3,2787.6 1705.3,2787.4 1705.6,2787.1 1709.4,2789.7 1712.0,2790.7 1712.6,2790.9 1716.6,2789.5 1719.4,2788.2 1720.0,2788.1 1724.0,2790.2 1725.1,2791.3 1727.4,2789.8 1730.4,2789.7 1732.3,2789.4 1734.0,2790.5 1737.4,2792.1 1738.5,2792.1 1740.0,2792.0" stroke="#7c7c7c" stroke-width="5.0"/>
<polyline class="c" points="585.0,2813.5 600.0,2813.0 615.0,2810.0 627.5,2785.0 640.0,2737.5 647.5,2700.0 655.0,2650.0 660.0,2612.5 662.5,2562.5 667.5,2525.0 670.0,2475.0 673.8,2412.5 677.5,2362.5 681.2,2322.5 682.5,2297.5 683.8,2262.5 685.0,2232.5 687.5,2210.0 688.8,2199.0 693.8,2136.5 696.2,2074.0 698.8,2024.0 702.5,1986.5 706.2,1949.0 708.8,1911.5 712.5,1881.5 717.5,1859.0 725.0,1834.0 731.2,1809.0 745.0,1799.0 750.0,1774.0 756.2,1749.0 762.5,1744.1 766.9,1725.7 770.0,1719.8 773.0,1710.6 773.8,1702.8 777.5,1724.1 780.0,1724.0 780.7,1729.5 783.8,1739.3 787.8,1733.4 790.0,1731.5 791.2,1745.3 795.5,1739.3 798.8,1751.2 800.0,1759.0 803.2,1747.4 806.6,1760.4 810.5,1740.1 814.8,1736.1 815.0,1741.5 817.5,1771.5 818.8,1766.2 823.1,1795.5 825.0,1791.5 827.1,1789.5 830.2,1809.0 834.4,1803.2 835.0,1811.5 838.3,1812.8 841.7,1826.9 844.9,1823.9 845.0,1829.0 849.1,1823.5 853.0,1830.3 857.3,1829.5 857.5,1839.0 861.4,1855.7 862.5,1864.0 865.8,1859.9 869.6,1866.9 873.6,1865.9 877.5,1881.6 877.5,1876.5 880.8,1887.6 885.2,1898.1 888.6,1904.6 890.0,1904.0 892.7,1912.3 897.1,1908.3 901.0,1926.5 902.5,1921.5 904.2,1937.2 905.0,1939.0 908.4,1946.0 912.3,1945.4 915.5,1949.5 917.5,1946.5 918.6,1942.1 922.3,1968.0 923.8,1964.0 925.3,1963.2 929.7,1990.4 930.0,1986.5 933.4,1990.0 937.1,1993.1 940.7,1983.2 944.6,1997.8 948.9,1979.1 952.3,1985.4 952.5,1989.0 955.8,1997.8 957.5,2016.5 959.7,2028.2 962.5,2029.0 963.1,2025.1 966.9,2037.3 970.7,2022.9 974.3,2023.5 978.2,2022.1 982.0,2030.5 985.0,2026.5 985.1,2021.2 989.5,2033.1 993.0,2045.5 996.6,2056.5 1000.0,2059.0 1000.1,2051.4 1004.5,2079.0 1007.5,2084.0 1008.8,2073.5 1012.6,2076.6 1015.0,2067.5 1016.1,2074.6 1019.2,2083.1 1022.5,2100.0 1023.5,2093.5 1026.7,2115.6 1030.5,2110.9 1032.5,2117.5 1034.0,2123.5 1037.4,2103.8 1040.9,2106.3 1044.1,2099.3 1047.2,2096.8 1050.0,2097.5 1050.9,2110.1 1052.5,2125.0 1055.0,2140.7 1057.5,2147.5 1059.0,2152.6 1062.2,2152.6 1066.2,2155.1 1067.5,2165.0 1069.2,2174.5 1072.8,2173.7 1077.0,2192.1 1077.5,2190.0 1081.3,2188.0 1085.0,2198.3 1089.2,2197.9 1092.5,2197.5 1092.9,2203.1 1096.6,2215.5 1097.5,2215.0 1100.0,2235.0 1100.4,2234.4 1104.9,2244.3 1107.5,2255.0 1108.9,2253.2 1112.6,2258.1 1116.2,2265.0 1116.6,2263.9 1120.0,2280.0 1120.5,2276.6 1124.0,2288.9 1128.1,2287.9 1132.3,2304.4 1136.2,2308.5 1140.0,2312.5 1140.5,2311.5 1143.5,2322.2 1147.2,2327.3 1150.0,2335.0 1151.1,2339.4 1154.6,2348.5 1157.8,2352.1 1161.8,2362.9 1162.5,2360.0 1165.4,2360.5 1168.7,2369.1 1171.8,2373.5 1175.0,2382.5 1176.1,2383.3 1179.6,2389.2 1182.8,2398.4 1186.0,2403.1 1187.5,2410.0 1189.4,2411.4 1193.6,2422.0 1196.9,2427.8 1200.0,2430.0 1200.2,2425.7 1203.3,2437.5 1207.0,2441.3 1210.2,2447.0 1212.5,2447.5 1213.7,2444.6 1217.8,2457.9 1222.1,2458.2 1225.0,2467.5 1226.3,2472.0 1229.3,2468.7 1232.8,2480.0 1237.0,2483.9 1237.5,2482.5 1240.0,2483.6 1243.3,2485.6 1247.0,2495.0 1250.0,2495.0 1250.5,2497.5 1254.6,2503.0 1258.6,2502.4 1262.3,2513.8 1262.5,2510.0 1265.6,2510.7 1268.9,2520.6 1272.2,2518.7 1275.0,2525.0 1275.3,2527.9 1279.2,2527.5 1282.4,2539.1 1286.7,2537.6 1287.5,2542.5 1290.6,2549.7 1293.7,2549.8 1297.4,2559.5 1300.0,2560.0 1301.2,2565.3 1304.3,2575.8 1306.6,2580.0 1307.9,2578.6 1310.9,2584.4 1313.6,2583.6 1315.0,2587.2 1318.0,2591.8 1318.8,2594.3 1321.9,2596.2 1324.0,2595.6 1326.3,2601.0 1328.9,2608.4 1330.5,2606.2 1333.8,2612.2 1334.0,2609.6 1337.6,2616.4 1339.8,2622.7 1340.7,2622.4 1344.2,2622.4 1346.1,2625.2 1348.5,2631.0 1351.5,2634.9 1352.6,2633.8 1355.6,2639.2 1358.6,2638.2 1359.1,2636.6 1363.0,2648.8 1365.5,2652.6 1366.2,2650.6 1370.4,2653.0 1372.2,2651.3 1374.7,2656.2 1378.5,2663.7 1379.1,2663.2 1381.9,2662.2 1386.1,2665.0 1386.2,2666.3 1389.9,2669.8 1392.9,2676.3 1393.1,2675.6 1396.5,2674.2 1398.7,2675.1 1399.7,2678.2 1403.9,2679.8 1404.5,2682.8 1407.6,2682.4 1409.3,2680.6 1411.6,2682.6 1415.8,2690.1 1416.2,2691.7 1420.2,2689.0 1422.8,2689.7 1423.4,2692.4 1427.0,2695.9 1429.6,2698.9 1431.2,2700.8 1435.3,2699.5 1436.1,2700.6 1438.8,2706.4 1441.1,2708.4 1442.8,2709.4 1446.0,2710.5 1447.2,2710.1 1449.2,2711.3 1452.3,2719.7 1453.1,2719.0 1455.8,2717.6 1458.8,2719.0 1459.1,2720.7 1462.8,2723.9 1464.7,2725.4 1467.2,2727.1 1469.9,2725.4 1470.4,2724.8 1474.2,2730.7 1475.5,2731.4 1478.4,2729.7 1482.0,2731.0 1482.3,2732.8 1486.0,2736.1 1487.7,2739.5 1490.1,2741.0 1493.1,2738.4 1495.0,2739.1 1497.5,2743.3 1499.9,2744.9 1501.4,2743.2 1505.6,2742.6 1506.9,2743.1 1509.8,2747.1 1511.9,2749.1 1512.9,2748.2 1515.9,2747.3 1519.0,2747.6 1519.2,2747.2 1522.9,2751.4 1525.9,2753.5 1527.2,2754.4 1531.5,2752.1 1532.9,2752.7 1535.1,2755.4 1539.0,2755.7 1539.6,2757.4 1543.0,2756.3 1546.5,2757.1 1547.0,2756.6 1550.9,2760.7 1553.7,2761.7 1555.2,2760.2 1559.3,2760.1 1560.0,2760.6 1563.6,2762.4 1566.3,2765.7 1567.7,2764.9 1571.6,2764.5 1573.0,2764.9 1575.1,2767.2 1578.4,2768.9 1578.4,2768.1 1581.8,2769.8 1584.8,2767.5 1584.9,2768.7 1589.1,2772.1 1590.1,2771.8 1592.5,2770.7 1595.5,2772.4 1596.5,2771.1 1599.0,2771.5 1602.1,2775.2 1602.7,2775.1 1605.7,2775.4 1608.5,2774.7 1609.1,2775.8 1612.4,2776.1 1613.3,2777.5 1616.0,2777.9 1619.6,2776.1 1620.8,2777.2 1623.1,2779.2 1626.2,2780.0 1627.2,2779.2 1630.7,2780.3 1632.4,2779.3 1634.4,2780.8 1638.4,2782.1 1638.7,2782.9 1643.1,2780.5 1645.4,2781.3 1646.6,2782.7 1649.6,2782.2 1650.9,2783.7 1654.0,2784.2 1657.7,2781.7 1658.3,2782.1 1661.0,2784.2 1664.1,2784.7 1664.2,2785.2 1667.4,2785.5 1669.6,2783.9 1670.8,2784.8 1674.0,2787.0 1675.6,2786.6 1677.0,2785.7 1681.5,2786.3 1682.3,2785.0 1685.6,2785.8 1688.8,2787.5 1688.9,2787.8 1692.4,2787.0 1694.1,2785.9 1696.6,2787.9 1699.7,2788.3 1700.3,2787.2 1703.4,2787.2 1705.1,2787.5 1706.8,2787.0 1710.3,2788.7 1710.6,2789.1 1714.7,2788.3 1716.3,2788.6 1718.5,2788.7 1722.1,2789.8 1723.1,2790.6 1726.0,2790.0 1727.6,2789.1 1729.0,2788.7 1732.7,2791.3 1733.0,2791.8 1737.2,2791.2 1738.8,2790.5 1740.0,2792.0" stroke="#7c7c7c" stroke-width="5.0" stroke-dasharray="25 14 7 13 7 13"/>
<polyline class="c" points="585.0,2813.5 600.0,2813.0 615.0,2812.5 635.0,2792.5 645.0,2770.0 652.5,2742.5 660.0,2700.0 667.5,2650.0 675.0,2600.0 682.5,2537.5 690.0,2475.0 695.0,2425.0 700.0,2380.0 705.0,2332.5 715.0,2317.5 721.2,2282.5 727.5,2300.0 733.8,2317.5 741.2,2280.0 747.5,2292.5 753.8,2260.0 756.2,2242.5 763.8,2237.5 770.0,2217.5 775.0,2197.5 780.0,2200.0 783.8,2235.0 787.5,2220.0 795.0,2217.5 800.0,2210.0 805.0,2220.0 810.0,2197.5 816.2,2235.0 822.5,2212.5 827.5,2207.5 836.2,2227.5 843.8,2220.0 850.0,2232.5 857.5,2217.5 865.0,2225.0 870.0,2237.5 876.2,2210.0 881.2,2230.0 887.5,2220.0 893.8,2232.5 900.0,2225.0 906.2,2255.0 911.2,2222.5 916.2,2247.5 921.2,2237.5 927.5,2245.0 933.8,2272.5 940.0,2240.0 946.2,2267.5 952.5,2237.5 957.5,2245.0 962.5,2227.5 968.8,2247.5 975.0,2265.0 982.5,2222.5 987.5,2250.0 993.8,2230.0 998.8,2270.0 1005.0,2247.5 1011.2,2260.0 1017.5,2250.0 1025.0,2277.5 1032.5,2270.0 1038.8,2282.5 1046.2,2267.5 1052.5,2280.0 1060.0,2295.0 1065.0,2282.5 1071.0,2307.5 1073.8,2310.0 1081.2,2300.9 1085.6,2315.6 1087.5,2320.0 1089.9,2330.4 1093.8,2332.5 1094.2,2333.8 1097.3,2325.4 1100.0,2325.0 1101.1,2321.8 1104.7,2338.2 1108.5,2337.4 1110.0,2342.5 1111.6,2345.0 1114.9,2351.2 1117.5,2365.0 1118.5,2365.9 1121.8,2376.8 1125.4,2387.5 1127.5,2387.5 1128.4,2382.4 1131.5,2390.0 1135.5,2378.7 1136.2,2382.5 1139.1,2375.2 1142.5,2370.0 1142.8,2368.8 1146.9,2390.1 1150.0,2400.0 1150.3,2397.5 1153.4,2409.2 1156.2,2410.0 1157.5,2412.7 1161.3,2438.4 1162.5,2440.0 1165.3,2426.8 1167.5,2425.0 1169.2,2434.2 1173.6,2443.6 1175.0,2445.0 1177.0,2444.6 1181.1,2437.1 1182.5,2432.5 1184.6,2446.2 1188.4,2458.2 1190.0,2470.0 1192.4,2465.2 1195.0,2455.0 1195.8,2456.4 1198.9,2473.5 1200.0,2475.0 1202.6,2470.7 1206.6,2475.2 1207.5,2472.5 1210.4,2476.7 1214.0,2492.0 1215.0,2492.5 1217.9,2488.3 1221.2,2493.6 1222.5,2490.0 1224.4,2490.4 1227.8,2503.0 1230.0,2502.5 1232.0,2506.2 1235.0,2520.0 1235.3,2522.0 1238.4,2523.2 1241.5,2530.0 1242.5,2532.5 1244.5,2529.4 1247.9,2534.0 1250.0,2530.0 1251.7,2531.1 1255.0,2542.5 1255.9,2543.4 1259.3,2536.7 1260.0,2537.5 1262.8,2550.0 1265.0,2555.0 1266.2,2553.4 1269.6,2544.5 1270.0,2545.0 1273.7,2547.7 1277.5,2559.1 1280.0,2560.0 1280.8,2559.4 1284.0,2571.6 1285.0,2572.5 1288.1,2569.0 1290.0,2572.5 1292.1,2580.6 1295.0,2587.5 1296.3,2581.2 1299.6,2575.4 1300.0,2572.2 1303.3,2580.4 1306.2,2589.6 1307.7,2591.5 1311.5,2586.2 1312.1,2587.5 1315.9,2599.6 1318.3,2602.2 1319.1,2600.9 1323.5,2601.3 1324.4,2602.9 1326.5,2609.1 1330.1,2617.0 1331.3,2618.3 1333.1,2616.6 1336.7,2620.4 1337.2,2623.9 1341.2,2628.7 1343.6,2635.3 1345.6,2636.3 1348.2,2631.0 1349.8,2636.2 1354.1,2648.1 1355.6,2649.5 1357.9,2648.9 1362.0,2650.6 1362.3,2650.8 1366.4,2659.4 1366.5,2660.7 1369.9,2660.4 1371.2,2658.7 1374.3,2663.1 1376.4,2667.6 1377.8,2669.7 1381.0,2665.9 1382.3,2667.7 1384.1,2670.0 1387.7,2675.6 1389.3,2680.5 1391.0,2681.7 1395.3,2676.6 1395.7,2678.6 1399.7,2684.0 1402.2,2689.1 1403.0,2687.1 1406.1,2687.3 1407.6,2684.3 1409.8,2687.3 1413.1,2693.4 1415.1,2698.0 1416.8,2696.3 1421.0,2697.5 1421.7,2695.1 1424.3,2698.2 1426.9,2703.9 1427.9,2705.1 1431.6,2701.2 1432.2,2701.1 1435.8,2712.5 1437.3,2713.8 1439.3,2710.7 1442.9,2709.8 1443.6,2712.3 1447.7,2716.1 1450.0,2721.4 1452.0,2719.9 1455.1,2719.8 1456.0,2720.3 1459.6,2729.6 1461.0,2731.6 1463.5,2728.7 1466.7,2728.9 1467.7,2730.0 1471.6,2734.8 1473.1,2737.9 1475.0,2736.5 1478.3,2736.3 1478.4,2735.7 1481.9,2741.9 1483.9,2744.5 1486.0,2742.1 1489.8,2741.6 1490.7,2741.9 1493.6,2743.8 1495.9,2747.3 1497.8,2747.5 1500.6,2744.3 1500.9,2744.1 1504.8,2751.9 1505.6,2752.5 1508.2,2750.6 1511.5,2750.4 1512.0,2750.4 1516.2,2753.7 1518.2,2756.3 1519.5,2757.3 1523.9,2754.0 1524.6,2755.1 1527.0,2756.5 1530.4,2759.9 1530.8,2758.3 1534.5,2757.5 1535.7,2756.2 1537.8,2757.3 1541.6,2763.1 1542.6,2763.6 1545.3,2761.8 1548.9,2763.6 1549.7,2762.1 1552.9,2764.6 1555.4,2768.4 1555.9,2768.8 1559.4,2765.8 1561.8,2765.8 1563.5,2768.2 1566.7,2768.0 1569.3,2770.8 1571.0,2771.2 1574.2,2767.1 1574.6,2768.0 1578.2,2772.7 1580.1,2773.9 1581.4,2773.7 1584.8,2772.2 1585.0,2773.1 1588.6,2774.3 1591.0,2776.5 1591.7,2777.0 1595.7,2774.2 1597.4,2774.9 1599.4,2778.0 1603.2,2780.9 1603.3,2780.3 1607.1,2779.3 1609.2,2777.5 1610.9,2777.8 1614.6,2780.6 1616.3,2782.0 1618.0,2780.0 1621.2,2778.9 1622.3,2780.3 1625.4,2780.7 1628.2,2783.9 1629.7,2784.2 1633.2,2781.2 1633.9,2781.1 1637.6,2784.8 1640.6,2785.6 1641.7,2784.6 1645.7,2784.6 1647.9,2782.9 1649.5,2783.5 1652.9,2786.9 1654.2,2787.2 1656.3,2786.6 1659.0,2785.3 1659.8,2785.3 1663.2,2786.1 1666.4,2787.9 1667.6,2787.3 1671.1,2785.9 1673.0,2786.3 1674.6,2787.8 1678.2,2788.0 1680.0,2789.6 1682.4,2789.5 1685.4,2787.6 1686.0,2786.8 1689.8,2790.0 1692.1,2789.8 1693.1,2788.8 1696.5,2789.4 1697.2,2788.2 1699.6,2788.3 1702.9,2791.6 1704.3,2791.6 1706.2,2790.2 1709.6,2788.8 1710.5,2790.2 1714.2,2790.3 1714.8,2791.5 1717.3,2791.5 1720.1,2790.3 1720.9,2791.1 1724.1,2792.5 1724.7,2792.4 1727.9,2792.0 1730.3,2790.9 1731.5,2792.6 1735.2,2793.3 1735.7,2792.3 1739.1,2792.8 1740.0,2792.0" stroke="#050505" stroke-width="6.2"/>
<polyline class="c" points="585.0,2813.5 600.0,2813.0 615.0,2812.5 635.0,2792.5 645.0,2770.0 652.5,2742.5 660.0,2700.0 666.2,2637.5 672.5,2575.0 680.0,2512.5 683.8,2485.0 685.0,2450.0 686.2,2422.5 687.5,2400.0 690.0,2362.5 691.2,2335.0 693.8,2310.0 697.5,2280.0 701.2,2247.5 702.5,2223.8 706.2,2200.0 707.5,2186.5 715.0,2154.0 720.0,2131.5 727.5,2159.0 740.0,2146.5 747.5,2129.0 752.5,2094.0 755.0,2071.5 767.5,2050.0 771.5,2040.3 775.7,2043.2 776.2,2035.2 778.9,2034.4 783.4,2058.4 785.0,2054.0 786.6,2044.8 790.6,2046.9 793.7,2042.6 797.8,2053.6 800.0,2044.0 800.9,2045.3 805.0,2047.5 809.0,2032.3 812.5,2034.0 813.1,2035.4 815.0,2019.0 816.7,2016.2 820.9,2030.7 822.5,2039.0 825.4,2035.9 828.5,2048.6 832.2,2036.9 835.0,2046.5 836.6,2054.3 840.6,2041.5 844.3,2050.6 847.5,2046.5 847.7,2050.9 852.0,2056.2 855.1,2052.8 859.2,2060.4 860.0,2064.0 863.4,2073.8 866.6,2086.6 870.1,2089.7 873.5,2090.7 875.0,2096.5 877.2,2087.6 880.7,2103.0 885.0,2086.0 889.3,2089.2 892.8,2083.1 895.0,2089.0 897.1,2099.6 900.1,2087.1 903.2,2100.6 907.2,2092.6 910.0,2101.5 911.3,2098.7 915.5,2096.9 919.9,2109.2 924.1,2096.8 927.5,2103.5 931.6,2090.7 932.5,2099.0 935.9,2111.3 939.0,2110.1 942.7,2115.7 945.0,2114.0 945.9,2109.3 949.0,2126.1 952.7,2123.2 956.7,2141.0 957.5,2139.0 961.1,2127.2 964.2,2134.6 965.0,2126.5 967.9,2122.5 972.4,2138.7 976.5,2131.3 977.5,2139.0 980.2,2138.4 983.5,2111.8 985.0,2114.0 987.4,2125.2 990.0,2126.5 990.8,2120.3 994.7,2123.9 998.6,2118.5 1002.1,2131.6 1006.3,2122.8 1009.8,2135.1 1011.0,2126.5 1012.5,2127.5 1013.5,2126.6 1017.5,2142.5 1017.7,2146.9 1020.0,2162.5 1021.0,2158.5 1024.2,2167.8 1027.5,2177.5 1028.0,2169.7 1031.6,2170.6 1035.9,2167.2 1037.5,2170.0 1039.2,2181.1 1042.7,2176.4 1045.8,2190.6 1047.5,2190.0 1049.4,2185.6 1052.8,2202.9 1056.2,2205.0 1056.5,2198.1 1060.5,2211.5 1063.6,2213.6 1067.5,2215.0 1068.0,2222.5 1072.0,2215.3 1076.2,2229.7 1079.9,2220.4 1082.5,2227.5 1083.7,2228.2 1087.3,2233.2 1090.8,2246.9 1093.8,2247.5 1094.1,2241.8 1097.5,2258.2 1100.0,2260.0 1100.9,2260.6 1104.4,2281.7 1105.0,2280.0 1108.7,2271.6 1112.8,2278.4 1116.7,2269.4 1117.5,2272.5 1119.7,2291.2 1120.0,2295.0 1123.1,2297.0 1126.8,2302.4 1130.0,2310.0 1130.8,2306.6 1134.4,2320.8 1138.3,2319.0 1138.8,2325.0 1142.6,2335.6 1146.0,2330.3 1149.5,2337.3 1152.5,2342.5 1153.6,2342.1 1157.0,2363.2 1157.5,2362.5 1161.0,2362.7 1164.6,2373.8 1167.6,2371.6 1170.0,2372.5 1171.2,2379.9 1174.3,2382.0 1175.0,2390.0 1178.4,2392.6 1182.6,2402.0 1185.0,2402.5 1186.3,2407.6 1190.6,2414.0 1192.5,2415.0 1193.9,2421.3 1197.5,2420.9 1200.8,2418.9 1202.5,2422.5 1203.8,2437.2 1205.0,2447.5 1208.0,2452.2 1211.0,2444.8 1215.3,2446.9 1219.1,2450.6 1222.5,2450.0 1223.1,2449.6 1226.2,2456.8 1230.0,2467.5 1230.5,2470.3 1234.6,2464.8 1237.7,2474.3 1240.9,2472.1 1244.1,2473.9 1245.0,2472.5 1247.8,2472.8 1250.9,2484.3 1252.5,2482.5 1255.0,2490.7 1257.5,2502.5 1258.7,2506.2 1262.7,2504.6 1266.1,2511.9 1270.0,2508.6 1270.0,2512.5 1273.6,2521.1 1277.5,2525.0 1277.5,2521.7 1281.1,2537.4 1285.0,2545.0 1285.5,2543.0 1289.8,2550.1 1292.5,2550.0 1293.9,2554.4 1297.4,2561.5 1300.0,2565.0 1300.7,2563.7 1303.8,2576.0 1306.6,2579.2 1307.0,2580.2 1311.4,2583.1 1313.9,2581.1 1314.8,2581.5 1319.0,2594.5 1319.2,2595.8 1322.3,2593.5 1325.7,2596.3 1326.2,2596.3 1329.5,2603.0 1332.2,2611.2 1332.9,2610.5 1337.0,2611.8 1339.1,2613.9 1340.9,2620.3 1344.2,2627.7 1345.2,2626.3 1348.5,2629.6 1349.8,2626.5 1351.9,2629.8 1354.9,2640.6 1356.7,2641.8 1358.2,2642.4 1361.7,2640.0 1362.6,2643.2 1366.4,2646.9 1368.2,2652.1 1370.1,2651.8 1373.6,2651.8 1374.6,2653.3 1377.6,2660.4 1380.1,2662.5 1381.6,2659.7 1384.8,2661.3 1385.2,2660.0 1387.8,2667.6 1390.9,2675.2 1391.1,2676.2 1395.2,2669.9 1396.8,2670.7 1399.3,2676.0 1402.6,2678.7 1403.9,2682.7 1405.9,2682.1 1408.7,2678.3 1409.3,2677.3 1413.3,2684.1 1415.1,2688.0 1417.3,2685.1 1419.9,2684.4 1420.6,2687.4 1424.1,2690.9 1425.9,2695.1 1427.4,2697.3 1431.8,2696.5 1431.8,2695.5 1435.5,2702.3 1438.7,2706.4 1439.9,2703.7 1443.2,2703.0 1443.5,2703.3 1447.1,2709.1 1448.3,2713.5 1450.9,2714.2 1452.9,2711.3 1455.2,2717.0 1457.7,2721.3 1458.7,2721.4 1462.0,2717.5 1462.5,2718.3 1466.2,2724.9 1469.0,2727.9 1470.6,2725.7 1474.3,2727.1 1474.9,2725.7 1477.7,2729.5 1480.7,2734.9 1480.8,2736.4 1484.4,2733.1 1485.5,2732.1 1488.8,2739.1 1490.7,2740.7 1492.3,2738.7 1495.9,2740.5 1498.0,2738.7 1499.7,2740.0 1502.9,2745.5 1503.0,2746.1 1506.1,2744.0 1509.2,2743.7 1509.8,2746.0 1514.2,2749.1 1515.8,2751.5 1518.5,2751.1 1521.5,2747.6 1521.9,2748.5 1526.0,2754.3 1527.8,2755.1 1530.2,2752.8 1533.0,2751.3 1534.0,2753.6 1537.5,2755.6 1538.1,2757.4 1540.8,2755.9 1544.0,2754.7 1544.8,2754.7 1548.7,2759.5 1549.7,2759.4 1552.0,2757.2 1555.1,2756.5 1555.2,2757.7 1558.3,2758.8 1561.4,2763.5 1562.5,2764.4 1566.8,2761.2 1568.7,2762.1 1570.5,2763.3 1573.9,2766.7 1574.4,2766.9 1578.4,2766.3 1578.9,2765.5 1581.6,2767.4 1584.1,2771.2 1585.3,2771.6 1588.9,2769.0 1589.4,2768.3 1593.2,2773.0 1595.7,2774.3 1596.4,2773.0 1600.6,2770.2 1601.0,2770.5 1603.7,2772.9 1606.7,2776.5 1607.6,2776.9 1611.9,2773.1 1612.9,2773.2 1615.0,2774.5 1618.6,2777.2 1619.7,2778.9 1621.6,2779.4 1625.3,2776.6 1626.7,2776.7 1629.0,2778.5 1632.4,2781.8 1633.4,2781.4 1637.1,2780.0 1638.5,2778.1 1641.4,2779.9 1644.0,2783.4 1645.4,2783.3 1649.6,2781.2 1650.3,2780.5 1653.1,2782.5 1656.2,2782.8 1657.6,2784.0 1660.1,2783.8 1663.1,2781.9 1663.2,2781.5 1667.1,2783.9 1667.9,2784.7 1670.3,2783.2 1674.2,2784.2 1674.5,2783.4 1678.3,2784.8 1679.8,2786.2 1682.7,2786.4 1685.9,2783.2 1685.9,2784.4 1689.1,2786.7 1692.7,2786.4 1692.8,2787.3 1697.1,2787.1 1698.4,2785.7 1700.5,2786.4 1703.3,2788.3 1704.1,2789.1 1707.6,2787.1 1708.2,2786.4 1710.7,2789.1 1713.2,2789.7 1714.5,2788.6 1717.9,2788.4 1718.3,2787.5 1721.5,2789.4 1724.8,2790.3 1725.6,2790.0 1729.5,2788.9 1732.1,2788.9 1732.9,2788.8 1736.8,2789.7 1738.3,2791.2 1740.0,2792.0" stroke="#050505" stroke-width="6.3" stroke-dasharray="25 14 7 13 7 13"/>
</g>
<path class="ax" stroke-width="4.6" d="M275,1650 H1751.3 M275,2814.5 H1751.3 M1749,1650 V2814.5"/>
<path d="M300,2814.0 H618" fill="none" stroke="#0a0a0a" stroke-width="4"/>
<path class="ax" stroke-width="4" d="M299,1650 V2814.5"/>
<path class="ax" stroke-width="3.4" d="M285,2761.6 H299 M275,2708.7 H299 M285,2655.7 H299 M275,2602.8 H299 M285,2549.9 H299 M275,2496.9 H299 M285,2444.0 H299 M275,2391.1 H299 M285,2338.2 H299 M275,2285.2 H299 M285,2232.3 H299 M275,2179.4 H299 M285,2126.5 H299 M275,2073.6 H299 M285,2020.6 H299 M275,1967.7 H299 M285,1914.8 H299 M275,1861.8 H299 M285,1808.9 H299 M275,1756.0 H299 M285,1703.1 H299 "/>
<text transform="translate(260.5,2830.8) scale(0.940,1)" font-size="57" text-anchor="end">0</text>
<text transform="translate(260.5,2725.0) scale(0.940,1)" font-size="57" text-anchor="end">5</text>
<text transform="translate(260.5,2619.1) scale(0.940,1)" font-size="57" text-anchor="end">10</text>
<text transform="translate(260.5,2513.2) scale(0.940,1)" font-size="57" text-anchor="end">15</text>
<text transform="translate(260.5,2407.4) scale(0.940,1)" font-size="57" text-anchor="end">20</text>
<text transform="translate(260.5,2301.6) scale(0.940,1)" font-size="57" text-anchor="end">25</text>
<text transform="translate(260.5,2195.7) scale(0.940,1)" font-size="57" text-anchor="end">30</text>
<text transform="translate(260.5,2089.9) scale(0.940,1)" font-size="57" text-anchor="end">35</text>
<text transform="translate(260.5,1984.0) scale(0.940,1)" font-size="57" text-anchor="end">40</text>
<text transform="translate(260.5,1878.1) scale(0.940,1)" font-size="57" text-anchor="end">45</text>
<text transform="translate(260.5,1772.3) scale(0.940,1)" font-size="57" text-anchor="end">50</text>
<text transform="translate(260.5,1666.5) scale(0.940,1)" font-size="57" text-anchor="end">55</text>
<path class="ax" stroke-width="3.4" d="M299.0,2814.5 v26 M389.5,2814.5 v13 M480.1,2814.5 v26 M570.6,2814.5 v13 M661.2,2814.5 v26 M751.7,2814.5 v13 M842.3,2814.5 v26 M932.8,2814.5 v13 M1023.4,2814.5 v26 M1113.9,2814.5 v13 M1204.5,2814.5 v26 M1295.0,2814.5 v13 M1385.6,2814.5 v26 M1476.1,2814.5 v13 M1566.7,2814.5 v26 M1657.2,2814.5 v13 M1747.8,2814.5 v26 "/>
<text transform="translate(296.5,2900.3) scale(0.905,1)" font-size="59.5" text-anchor="middle">400</text>
<text transform="translate(477.6,2900.3) scale(0.905,1)" font-size="59.5" text-anchor="middle">450</text>
<text transform="translate(658.7,2900.3) scale(0.905,1)" font-size="59.5" text-anchor="middle">500</text>
<text transform="translate(839.8,2900.3) scale(0.905,1)" font-size="59.5" text-anchor="middle">550</text>
<text transform="translate(1020.9,2900.3) scale(0.905,1)" font-size="59.5" text-anchor="middle">600</text>
<text transform="translate(1202.0,2900.3) scale(0.905,1)" font-size="59.5" text-anchor="middle">650</text>
<text transform="translate(1383.1,2900.3) scale(0.905,1)" font-size="59.5" text-anchor="middle">700</text>
<text transform="translate(1564.2,2900.3) scale(0.905,1)" font-size="59.5" text-anchor="middle">750</text>
<text transform="translate(1745.3,2900.3) scale(0.905,1)" font-size="59.5" text-anchor="middle">800</text>
<text transform="translate(588.0,1608.5)" font-size="51.85" class="b">Fluorescence emission spectra</text>
<text transform="translate(148.0,2657.5) rotate(-90) scale(1.104,1)" font-size="52" class="b">Fluorescence Intensity (a.u.)</text>
<text transform="translate(814.0,2998.0)" font-size="52.1" class="b">Wavelength (nm)</text>
<text transform="translate(15.1,1586.7) scale(0.930,1)" font-size="63.8" class="pl">(<tspan font-size="72.7" dx="3.8" dy="5.1">b</tspan><tspan dx="6.4" dy="-5.1">)</tspan></text>
<text transform="translate(1244.5,1722.0)" font-size="45" class="s">λ</text>
<text transform="translate(1270.5,1747.5) scale(0.970,1)" font-size="31.5">exc</text>
<text transform="translate(1321.5,1724.0) scale(0.940,1)" font-size="57">=380 nm</text>
<line x1="1246.5" y1="1813" x2="1370.5" y2="1813" stroke="#7c7c7c" stroke-width="5.0"/>
<text transform="translate(1381.5,1832.0) scale(0.944,1)" font-size="57.2">ZnO-st</text>
<line x1="1246.5" y1="1884.5" x2="1370.5" y2="1884.5" stroke="#7c7c7c" stroke-width="5.0" stroke-dasharray="25 15 7 14.2 7 13.1"/>
<text transform="translate(1381.5,1906.0) scale(0.944,1)" font-size="57.2">ZnO-st-NH<tspan dy="18.5" font-size="31">2</tspan></text>
<line x1="1246.5" y1="2044.5" x2="1370.5" y2="2044.5" stroke="#050505" stroke-width="6.2"/>
<text transform="translate(1381.5,2063.5) scale(0.944,1)" font-size="57.2">ZnO-mw</text>
<line x1="1246.5" y1="2116.7" x2="1370.5" y2="2116.7" stroke="#050505" stroke-width="6.3" stroke-dasharray="25 15 7 14.2 7 13.1"/>
<text transform="translate(1381.5,2136.0) scale(0.944,1)" font-size="57.2">ZnO-mw-NH<tspan dy="18.5" font-size="31">2</tspan></text>
</g>
</g>
</svg></body></html>
